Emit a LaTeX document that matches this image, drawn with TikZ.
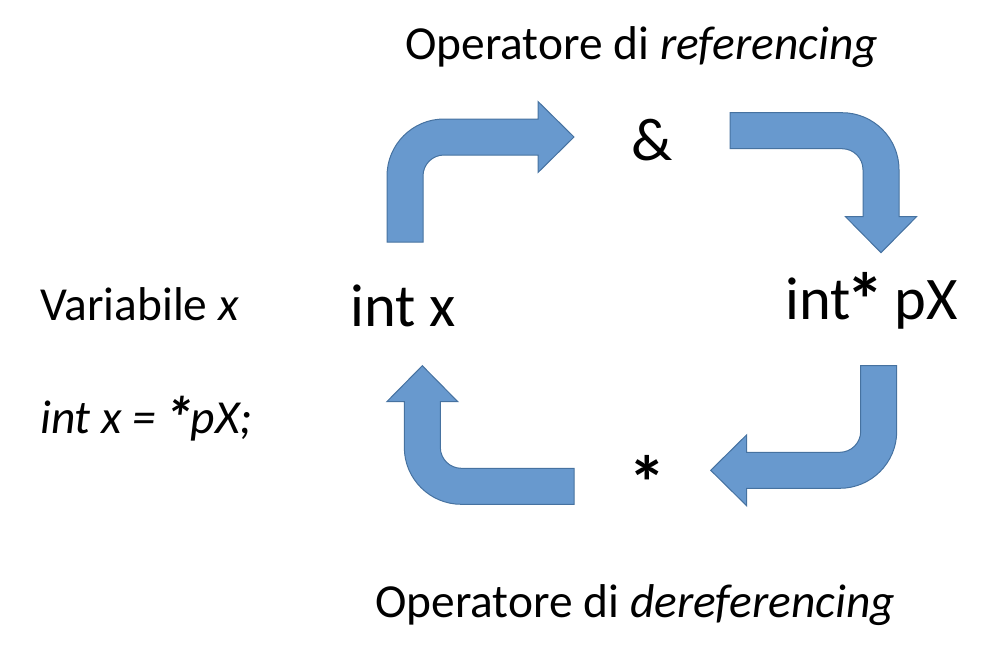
\documentclass[tikz,border=0pt]{standalone}
\usepackage{fontspec}
\usepackage{graphicx}
\setmainfont{Carlito}
\definecolor{arrfill}{RGB}{104,153,206}
\definecolor{arrline}{RGB}{70,114,160}
\newcommand\bentarrowshape[3]{% #1 = transform, #2 = tail leg, #3 = head leg
  \draw[bentarrow,#1] (0,#2) -- (0,57) arc[start angle=180,end angle=270,radius=57]
    -- (#3-36,0) -- (#3-36,-17.5) -- (#3,18) -- (#3-36,53.5) -- (#3-36,36)
    -- (57,36) arc[start angle=270,end angle=180,radius=21] -- (36,#2) -- cycle;}
\newcommand\bigast{\makebox[0.5em][c]{\raisebox{-0.12em}{\scalebox{1.25}{\bfseries *}}}}
\begin{document}
\begin{tikzpicture}[x=1pt,y=-1pt,
  bentarrow/.style={fill=arrfill,draw=arrline,line width=1pt,line join=miter},
  lbl/.style={inner sep=0pt,anchor=base west,font=\fontsize{47.4}{57}\selectfont},
  big/.style={inner sep=0pt,font=\fontsize{60.5}{72}\selectfont}]
\useasboundingbox (0,0) rectangle (981,653);
% bent block arrows
\bentarrowshape{shift={(387,119)}}{123}{187}
\bentarrowshape{shift={(899,112.7)},rotate=-90}{169}{140}
\bentarrowshape{shift={(896.7,488.3)},rotate=180}{122.6}{186}
\bentarrowshape{shift={(404.3,504.3)},rotate=90}{169.7}{138.6}
% texts
\node[lbl] (reflbl) at (405,59) {Operatore di \textit{referencing}};
\node[big,anchor=base] (amp) at (652,160) {\&};
\node[big,anchor=base west] (intx) at (350,326) {int x};
\node[big,anchor=base west] (intpx) at (785,319) {int\bigast{} pX};
\node[lbl] (varlbl) at (40,320) {Variabile \textit{x}};
\node[lbl] (code) at (40,433) {\textit{int x = \bigast pX;}};
\node[big,anchor=base] (star) at (647,502) {\bigast};
\node[lbl] (dereflbl) at (375,617) {Operatore di \textit{dereferencing}};
\end{tikzpicture}
\end{document}
